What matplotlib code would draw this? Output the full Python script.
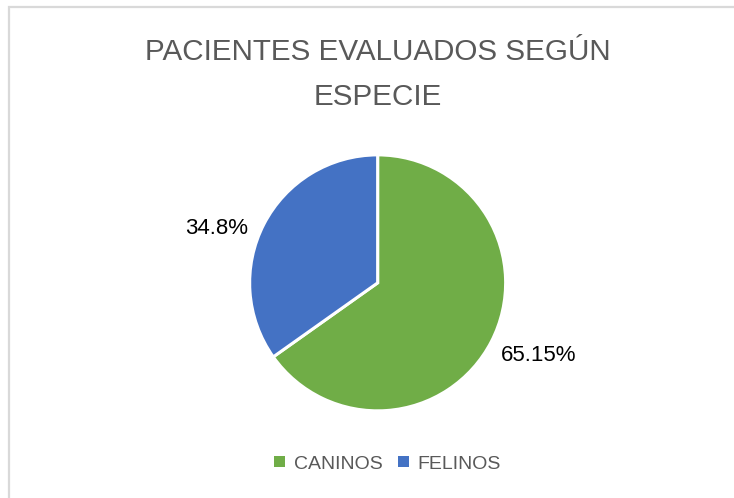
import matplotlib
matplotlib.use("Agg")
import matplotlib.pyplot as plt
from matplotlib.patches import Rectangle
import numpy as np

# data
species = ["CANINOS", "FELINOS"]
percent = [65.15, 34.8]
pct_labels = ["65.15%", "34.8%"]
colors = ["#70AD47", "#4472C4"]

TEXT_GRAY = "#595959"
plt.rcParams["font.family"] = ["Liberation Sans", "DejaVu Sans"]

fig = plt.figure(figsize=(7.34, 4.98), dpi=100, facecolor="white")

# chart frame (only top/left edges fall inside the image)
fig.patches.append(Rectangle((9 / 734, -0.5), 2.0, 1.5 - 7 / 498, transform=fig.transFigure,
                             facecolor="none", edgecolor="#D9D9D9", linewidth=1.6))

fig.text(0.515, 1 - 52 / 498, "PACIENTES EVALUADOS SEGÚN", ha="center", va="center",
         fontsize=21.3, color=TEXT_GRAY)
fig.text(0.515, 1 - 97 / 498, "ESPECIE", ha="center", va="center",
         fontsize=21.3, color=TEXT_GRAY)

ax = fig.add_axes([0.340, 0.175, 0.349, 0.514])
wedges, _ = ax.pie(percent, colors=colors, startangle=90, counterclock=False,
                   wedgeprops=dict(edgecolor="white", linewidth=2.2))
ax.set_xlim(-1, 1)
ax.set_ylim(-1, 1)

# data labels outside the slices
for w, lab in zip(wedges, pct_labels):
    mid = np.deg2rad((w.theta1 + w.theta2) / 2)
    ax.text(1.42 * np.cos(mid), 1.08 * np.sin(mid) - 0.07, lab, ha="center", va="center",
            fontsize=16, color="black")

leg = fig.legend(wedges, species, loc="center", bbox_to_anchor=(0.528, 1 - 464 / 498), ncol=2,
                 frameon=False, fontsize=14, handlelength=0.55, handleheight=0.55,
                 handletextpad=0.45, columnspacing=0.8)
for t in leg.get_texts():
    t.set_color(TEXT_GRAY)
for h in leg.legend_handles:
    h.set_edgecolor("none")

fig.savefig("out.png", dpi=100, facecolor="white")
